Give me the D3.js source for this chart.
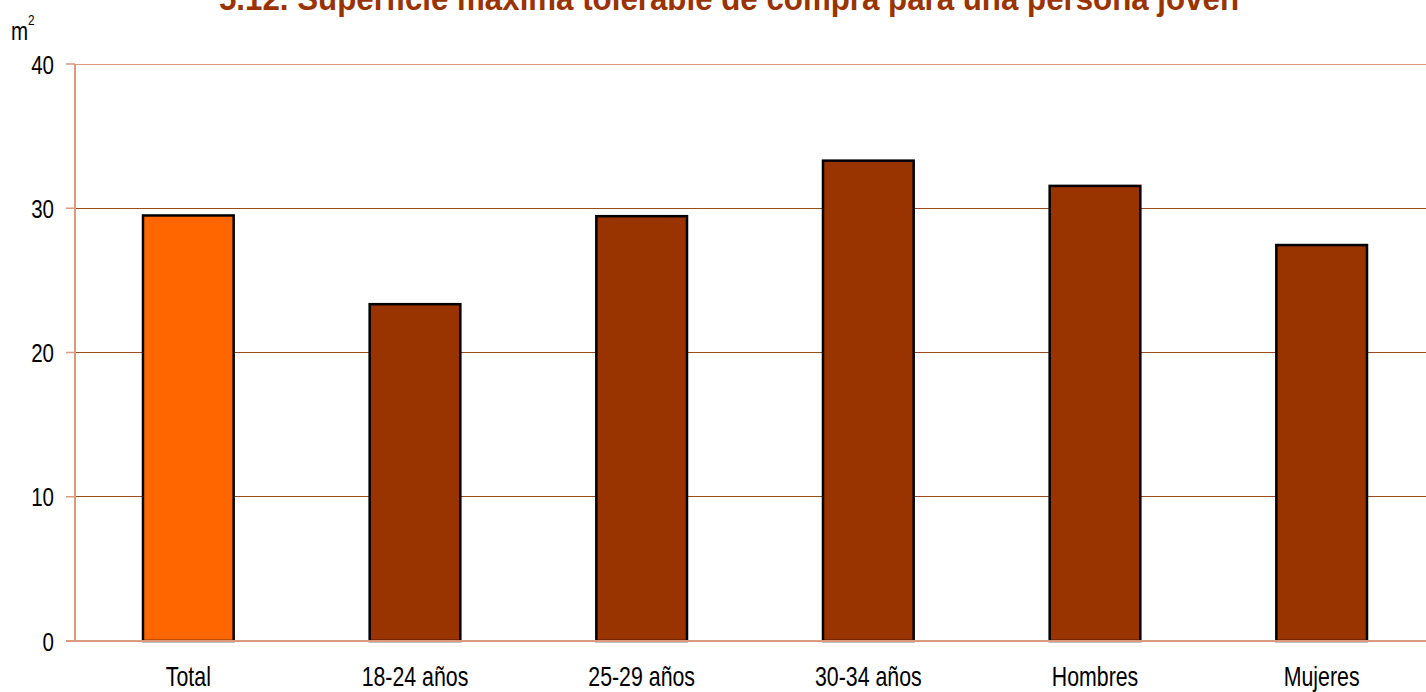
<!DOCTYPE html>
<html>
<head>
<meta charset="utf-8">
<script src="https://cdn.jsdelivr.net/npm/d3@7"></script>
<style>
  body { margin: 0; background: #fff; }
  svg { display: block; }
</style>
</head>
<body>
<svg id="chart" width="1426" height="692"></svg>
<script>
var categories = ["Total", "18-24 años", "25-29 años", "30-34 años", "Hombres", "Mujeres"];
var values = [29.5, 23.35, 29.45, 33.3, 31.55, 27.45];
var yTicks = [0, 10, 20, 30, 40];
var title = "5.12. Superficie máxima tolerable de compra para una persona joven";

var font = "'Liberation Sans Narrow', 'Arial Narrow', 'Liberation Sans', sans-serif";
var svg = d3.select("#chart");
var padL = 75, padR = 1435, padT = 64, padB = 641;
var narrow = 0.79;

var scX = d3.scaleBand().domain(categories).range([padL, padR])
            .paddingInner(0.6).paddingOuter(0.3);
var scY = d3.scaleLinear().domain([0, 40]).range([padB, padT]);

// gridlines
svg.append("g").selectAll("line")
    .data(yTicks.filter(d => d > 0)).enter().append("line")
    .attr("x1", padL).attr("x2", padR)
    .attr("y1", d => scY(d)).attr("y2", d => scY(d))
    .attr("stroke", d => d == 40 ? "#d99a7e" : "#9a4a20")
    .attr("stroke-width", 1)
    .attr("shape-rendering", "crispEdges");

// bars
svg.append("g").selectAll("rect")
    .data(values).enter().append("rect")
    .attr("x", (d, i) => scX(categories[i]))
    .attr("y", d => scY(d))
    .attr("width", scX.bandwidth())
    .attr("height", d => scY(0) - scY(d))
    .attr("fill", (d, i) => i == 0 ? "#ff6600" : "#993300")
    .attr("stroke", "#000")
    .attr("stroke-width", 2.5);

// y axis
svg.append("line")
    .attr("x1", padL).attr("x2", padL)
    .attr("y1", padT).attr("y2", padB)
    .attr("stroke", "#d99a7e").attr("stroke-width", 2);
svg.append("g").selectAll("line")
    .data(yTicks).enter().append("line")
    .attr("x1", padL - 9).attr("x2", padL)
    .attr("y1", d => scY(d)).attr("y2", d => scY(d))
    .attr("stroke", "#d99a7e").attr("stroke-width", 1.5);
svg.append("g").selectAll("text")
    .data(yTicks).enter().append("text")
    .attr("transform", d => "translate(54," + (scY(d) + 9.5) + ") scale(" + narrow + ",1)")
    .attr("text-anchor", "end")
    .attr("font-family", font).attr("font-size", 26)
    .text(d => d);

// x axis baseline
svg.append("line")
    .attr("x1", padL - 9).attr("x2", padR)
    .attr("y1", scY(0)).attr("y2", scY(0))
    .attr("stroke", "#d99a7e").attr("stroke-width", 2);

// category labels
svg.append("g").selectAll("text")
    .data(categories).enter().append("text")
    .attr("transform", d => "translate(" + (scX(d) + scX.bandwidth() / 2) + ",686) scale(" + narrow + ",1)")
    .attr("text-anchor", "middle")
    .attr("font-family", font).attr("font-size", 27)
    .text(d => d);

// unit
var unit = svg.append("text")
    .attr("transform", "translate(11,40) scale(" + narrow + ",1)")
    .attr("font-family", font).attr("font-size", 26)
    .text("m");
unit.append("tspan").attr("dy", -15).attr("font-size", 15).text("2");

// title (cut at top like the original)
svg.append("text")
    .attr("transform", "translate(729,10) scale(0.92,1)")
    .attr("text-anchor", "middle")
    .attr("font-family", font).attr("font-size", 34).attr("font-weight", "bold")
    .attr("fill", "#993300")
    .text(title);
</script>
</body>
</html>
